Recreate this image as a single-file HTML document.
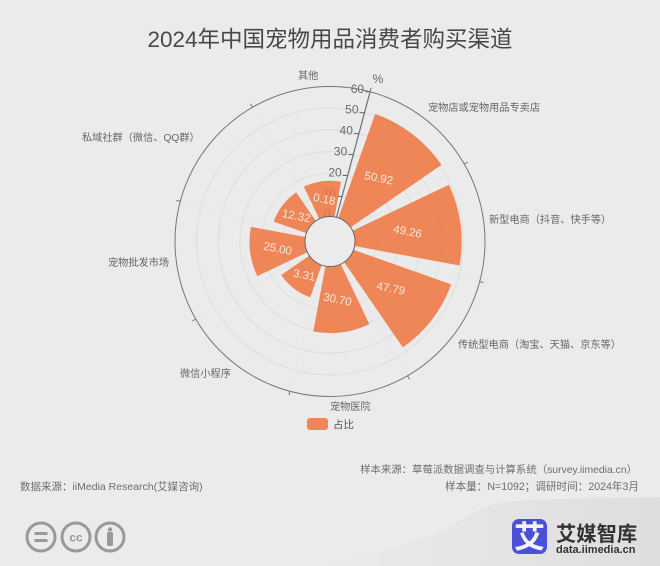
<!DOCTYPE html>
<html lang="zh">
<head>
<meta charset="utf-8">
<title>2024年中国宠物用品消费者购买渠道</title>
<style>
html,body{margin:0;padding:0;width:660px;height:566px;overflow:hidden;background:#ebebeb;}
svg{display:block;}
text{font-family:"Liberation Sans","Noto Sans CJK SC",sans-serif;}
</style>
</head>
<body>
<svg id="chart" xmlns="http://www.w3.org/2000/svg" width="660" height="566" viewBox="0 0 660 566">
  <defs>
    <linearGradient id="swoosh" x1="0" y1="0" x2="1" y2="0">
      <stop offset="0" stop-color="#ebebeb"/>
      <stop offset="0.6" stop-color="#e3e3e3"/>
      <stop offset="1" stop-color="#dedede"/>
    </linearGradient>
  </defs>
  <rect x="0" y="0" width="660" height="566" fill="#ebebeb"/>
  <path d="M320 566C390 552 440 535 470 515C490 502 510 500 560 499L660 497L660 566Z" fill="url(#swoosh)"/>
  <text x="330" y="47" text-anchor="middle" font-size="22.5" fill="#484848">2024年中国宠物用品消费者购买渠道</text>
  <g id="grid"></g>
  <g id="axis"></g>
  <g id="bars"></g>
  <g id="rim"></g>
  <g id="labels"></g>
  <g id="cats"></g>
  <g>
    <rect x="307" y="418" width="21" height="12" rx="3" fill="#ee8657"/>
    <text x="333" y="428" font-size="10.5" fill="#555">占比</text>
  </g>
  <text x="637" y="473" text-anchor="end" font-size="10.4" fill="#6e6e6e">样本来源：草莓派数据调查与计算系统（survey.iimedia.cn）</text>
  <text x="639" y="490" text-anchor="end" font-size="10.6" fill="#6e6e6e">样本量：N=1092；调研时间：2024年3月</text>
  <text x="20" y="490" font-size="10.5" fill="#6e6e6e">数据来源：iiMedia Research(艾媒咨询)</text>
  <g fill="none" stroke="#999" stroke-width="3">
    <circle cx="41" cy="537" r="14"/>
    <path d="M34.5 533.5H47.5M34.5 540.5H47.5"/>
    <circle cx="76" cy="537" r="14"/>
    <text x="76" y="541.5" text-anchor="middle" font-size="12" font-weight="bold" fill="#999" stroke="none">cc</text>
    <circle cx="110" cy="537" r="14"/>
    <circle cx="110" cy="529.5" r="2.2" fill="#999" stroke="none"/>
    <rect x="107" y="532" width="6" height="14" rx="1.5" fill="#999" stroke="none"/>
  </g>
  <g>
    <rect x="512" y="519" width="35" height="35" rx="7" fill="#4c50d8"/>
    <text x="529.5" y="548" text-anchor="middle" font-size="31" font-weight="bold" fill="#f3f3f3">艾</text>
    <text x="556" y="541" font-size="20.3" font-weight="bold" fill="#333">艾媒智库</text>
    <text x="556" y="553" font-size="11" font-weight="bold" fill="#333">data.iimedia.cn</text>
  </g>
</svg>
<script>
const categories = ["宠物店或宠物用品专卖店","新型电商（抖音、快手等）","传统型电商（淘宝、天猫、京东等）","宠物医院","微信小程序","宠物批发市场","私域社群（微信、QQ群）","其他"];
const barLengths = [50.92,49.26,47.79,30.70,15.8,25.6,16,16.5];
const printedValues = ["50.92","49.26","47.79","30.70","3.31","25.00","12.32","0.18"];
const radialTicks = [0,10,20,30,40,50,60];
const catLabelX = [428,489,458,330,180,108,82,298];
const catLabelY = [111,223,348,410,377,266,141,79];

const NS = "http://www.w3.org/2000/svg";
const cx = 330, cy = 241.5, r0 = 25, r1 = 155, startDeg = 15, axisMax = 60;
function rScale(v){ return r0 + (r1 - r0) * v / axisMax; }
function aScale(i){ return startDeg + (i + 0.5) * 360 / categories.length; }
function pt(r, deg){ const a = deg * Math.PI / 180; return [cx + r * Math.sin(a), cy - r * Math.cos(a)]; }
function make(tag, parentId, attrs, txt){
  const el = document.createElementNS(NS, tag);
  for (const k in attrs) el.setAttribute(k, attrs[k]);
  if (txt !== undefined) el.textContent = txt;
  document.getElementById(parentId).appendChild(el);
  return el;
}
const step = 360 / categories.length;
radialTicks.slice(1, -1).forEach(function(t){
  const c = make("circle", "grid", {cx:cx, cy:cy, r:rScale(t), fill:"none", stroke:"#dfe1e3", "stroke-width":1.4});
  
  
});
categories.forEach(function(_, i){
  const a = startDeg + i * step, p = pt(r0, a), q = pt(r1, a);
  const l = make("line", "grid", {x1:p[0], y1:p[1], x2:q[0], y2:q[1], stroke:"#e7e8e9", "stroke-width":1});
  
  
});
const a0 = pt(r0, startDeg), a1 = pt(r1, startDeg);
const axisLine = make("line", "axis", {x1:a0[0], y1:a0[1], x2:a1[0], y2:a1[1], stroke:"#5f7482", "stroke-width":1.2});


radialTicks.forEach(function(t){
  const p = pt(rScale(t), startDeg);
  const tk = make("line", "axis", {x1:p[0], y1:p[1], x2:p[0] - 5, y2:p[1], stroke:"#666", "stroke-width":1});
  
  
  const lb = make("text", "axis", {x:p[0] - 6, y:p[1] + 1, "text-anchor":"end", "font-size":12, fill:"#6a6a6a"}, String(t));
  
  
});
const unit = make("text", "axis", {x:378, y:83, "text-anchor":"middle", "font-size":12, fill:"#666"}, "%");


const barSpan = step * 0.8;
barLengths.forEach(function(v, i){
  const mid = aScale(i), a0 = mid - barSpan / 2, a1 = mid + barSpan / 2, r = rScale(v);
  const A = pt(r0, a0), B = pt(r, a0), C = pt(r, a1), D = pt(r0, a1);
  const d = "M" + A[0] + " " + A[1] + "L" + B[0] + " " + B[1] + "A" + r + " " + r + " 0 0 1 " + C[0] + " " + C[1] + "L" + D[0] + " " + D[1] + "Z";
  const bar = make("path", "bars", {d:d, fill:"#ee743d", "fill-opacity":0.85});
  
  
  const m = pt((r0 + r) / 2, mid);
  const lab = make("text", "labels", {x:m[0], y:m[1] + 4, "text-anchor":"middle", "font-size":11.5, fill:"#fbe6d8", transform:"rotate(11 " + m[0] + " " + m[1] + ")"}, printedValues[i]);
  
  
});
const hole = make("circle", "rim", {cx:cx, cy:cy, r:r0, fill:"#ebebeb", stroke:"#666", "stroke-width":1});


const outer = make("circle", "rim", {cx:cx, cy:cy, r:r1, fill:"none", stroke:"#777", "stroke-width":1});


categories.forEach(function(_, i){
  const a = startDeg + i * step, p = pt(r1, a), q = pt(r1 + 4, a);
  const l = make("line", "rim", {x1:p[0], y1:p[1], x2:q[0], y2:q[1], stroke:"#777", "stroke-width":1});
  
  
});
categories.forEach(function(c, i){
  const t = make("text", "cats", {x:catLabelX[i], y:catLabelY[i], "font-size":10.2, fill:"#666"}, c);
  
  
});
</script>
</body>
</html>
